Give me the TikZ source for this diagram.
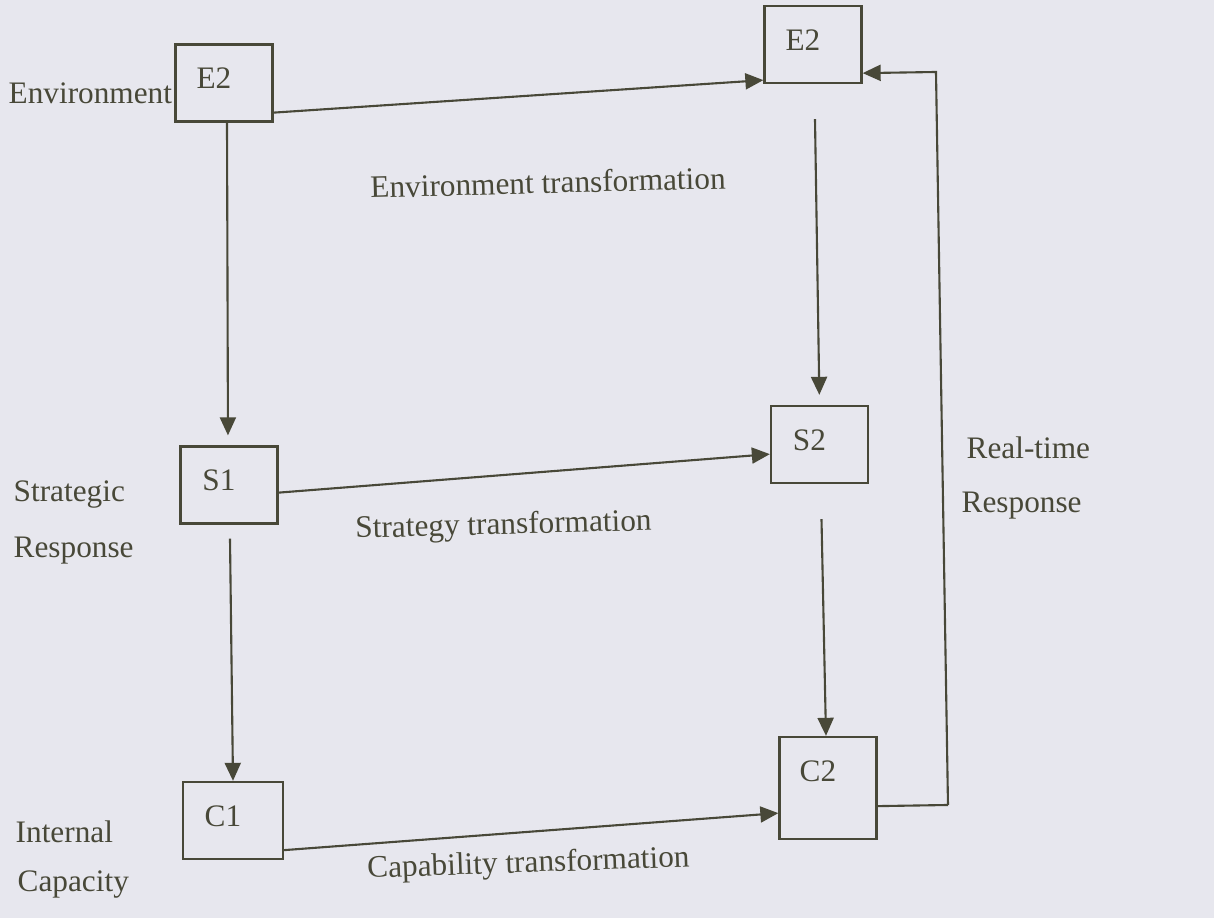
\documentclass[tikz,border=0pt]{standalone}
\usepackage{fontspec}
\setmainfont{Liberation Serif}
\usetikzlibrary{arrows.meta}

\begin{document}
\begin{tikzpicture}[
    font=\fontsize{8.9}{10.5}\selectfont,
    box/.style={draw=ink, line width=0.65pt, minimum width=0.97cm, minimum height=0.77cm, inner sep=0pt},
    boxtext/.style={anchor=north, xshift=-0.1cm, yshift=-0.14cm, text=ink, inner sep=0.1cm},
    flow/.style={draw=ink, line width=0.6pt, -{Triangle[length=0.18cm,width=0.16cm]}},
    plain/.style={draw=ink, line width=0.6pt},
    tag/.style={anchor=base west, inner sep=0pt, text=ink}
]

    % Colors for the page and the ink
    \definecolor{paper}{RGB}{231,231,238}
    \definecolor{ink}{RGB}{72,72,56}

    % Page
    \fill[paper] (0,0) rectangle (12.14,9.18);
    \useasboundingbox (0,0) rectangle (12.14,9.18);

    % Present state (left column)
    \node[box, label={[boxtext]north:E2}] (e2l) at (2.24,8.35) {};
    \node[box, label={[boxtext]north:S1}] (s1) at (2.29,4.33) {};
    \node[box, minimum width=1.0cm, label={[boxtext]north:C1}] (c1) at (2.33,0.975) {};

    % Future state (right column)
    \node[box, label={[boxtext]north:E2}] (e2r) at (8.13,8.735) {};
    \node[box, label={[boxtext]north:S2}] (s2) at (8.195,4.735) {};
    \node[box, minimum height=1.02cm, label={[boxtext]north:C2}] (c2) at (8.28,1.30) {};

    % Row names
    \node[tag] (envname) at (0.08,8.14) {Environment};
    \node[tag] (stratname) at (0.13,4.16) {Strategic};
    \node[tag] (respname) at (0.13,3.60) {Response};
    \node[tag] (intname) at (0.15,0.75) {Internal};
    \node[tag] (capname) at (0.17,0.26) {Capacity};
    \node[tag] (rtname) at (9.66,4.59) {Real-time};
    \node[tag] (rtrespname) at (9.61,4.05) {Response};

    % Transformations
    \node[tag, rotate=1.5] (envtrans) at (3.70,7.20) {Environment transformation};
    \node[tag, rotate=1.5] (strattrans) at (3.55,3.80) {Strategy transformation};
    \node[tag, rotate=2] (captrans) at (3.67,0.40) {Capability transformation};

    % Horizontal arrows
    \draw[flow] ([yshift=0.10cm]e2l.south east) -- ([yshift=0.04cm]e2r.south west);
    \draw[flow] ([yshift=0.32cm]s1.south east) -- ([yshift=0.30cm]s2.south west);
    \draw[flow] ([yshift=0.10cm]c1.south east) -- ([yshift=0.27cm]c2.south west);

    % Vertical arrows
    \draw[flow, shorten >=0.1cm] ([xshift=0.03cm]e2l.south) -- ([xshift=-0.01cm]s1.north);
    \draw[flow] ([xshift=0.01cm,yshift=-0.14cm]s1.south) -- (c1.north);
    \draw[flow, shorten >=0.1cm] ([xshift=0.02cm,yshift=-0.35cm]e2r.south) -- (s2.north);
    \draw[flow] ([xshift=0.02cm,yshift=-0.35cm]s2.south) -- ([xshift=-0.02cm]c2.north);

    % Feedback loop
    \coordinate (fbturn) at (9.48,1.13);
    \coordinate (fbtop) at (9.36,8.46);
    \draw[plain] ([yshift=0.34cm]c2.south east) -- (fbturn);
    \draw[flow] (fbturn) -- (fbtop) -- ([yshift=0.11cm]e2r.south east);

\end{tikzpicture}
\end{document}
